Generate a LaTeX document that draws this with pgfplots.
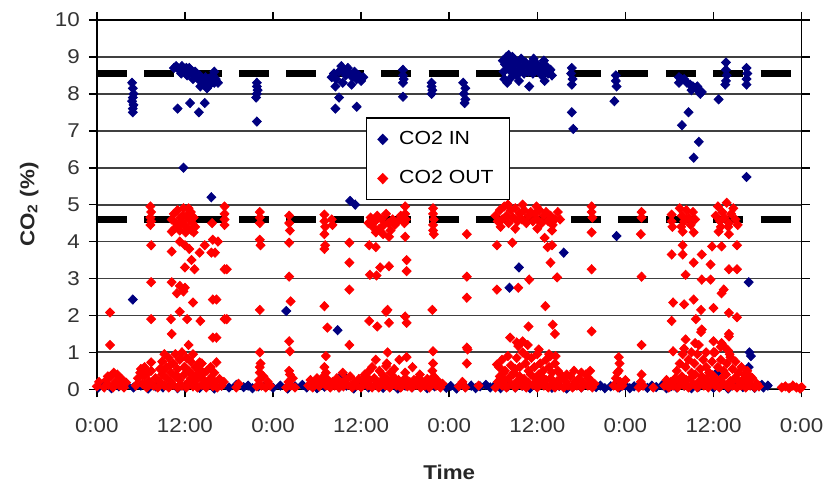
\documentclass[border=0pt]{standalone}
\usepackage{pgfplots}
\pgfplotsset{compat=1.18}
\usepackage{fontspec}
\setmainfont[FakeStretch=1.12]{Liberation Sans}
\definecolor{inblue}{RGB}{0,0,128}
\definecolor{outred}{RGB}{255,0,0}

\begin{document}
\begin{tikzpicture}
\begin{axis}[
  width=353pt, height=185pt, scale only axis,
  xmin=0, xmax=96, ymin=0, ymax=10,
  xtick={0,12,...,96},
  xticklabels={0:00,12:00,0:00,12:00,0:00,12:00,0:00,12:00,0:00},
  ytick={0,1,...,10},
  ymajorgrids, grid style={black!75, line width=0.9pt},
  axis line style={black, line width=0.8pt},
  tick style={black, line width=0.8pt},
  tick align=outside, major tick length=4pt,
  /pgf/number format/assume math mode=true,
  ticklabel style={font=\fontsize{10}{11}\selectfont, text=black!80},
  xticklabel style={yshift=-7pt},
  yticklabel style={xshift=-1pt},
  xlabel={Time}, ylabel={CO\textsubscript{2} (\%)},
  label style={font=\fontsize{10}{11}\selectfont\bfseries, text=black!85},
  xlabel style={at={(axis description cs:0.5,-0.224)}, anchor=center},
  ylabel style={at={(axis description cs:-0.096,0.5)}, anchor=center},
  legend style={at={(axis cs:36.6,7.36)}, anchor=north west, draw=black,
    line width=0.8pt, fill=white, font=\fontsize{9.5}{10.5}\selectfont,
    inner xsep=6pt, inner ysep=4.5pt, row sep=7.5pt},
  legend cell align=left,
  outmarks/.style={only marks, mark=diamond*, mark size=2.3pt,
    mark options={xscale=1.3}},
]
\coordinate (O) at (rel axis cs:0,0);

% CO2 IN
\addplot[outmarks, color=inblue] coordinates {
(0.2,0.05)(1.0,0.1)(2.0,0.03)(3.0,0.08)(4.0,0.12)(5.0,0.05)(6.0,0.1)(7.0,0.02)(8.0,0.08)(9.0,0.05)
(10.0,0.1)(11.0,0.03)(12.0,0.07)(13.0,0.12)(14.0,0.04)(15.0,0.09)(16.0,0.02)(17.0,0.1)(18.0,0.05)(19.0,0.12)
(20.0,0.06)(20.6,0.1)(21.2,0.03)(22.0,0.08)(23.0,0.12)(24.0,0.04)(25.0,0.1)(26.0,0.02)(27.0,0.08)(28.0,0.12)
(28.6,0.05)(29.2,0.1)(30.0,0.03)(31.0,0.07)(32.0,0.12)(33.0,0.05)(34.0,0.1)(35.0,0.02)(36.0,0.09)(37.0,0.05)
(38.0,0.12)(39.0,0.04)(40.0,0.08)(41.0,0.02)(42.0,0.1)(43.0,0.06)(44.0,0.12)(45.0,0.03)(46.0,0.08)(47.0,0.11)
(47.6,0.04)(48.2,0.09)(49.0,0.02)(49.6,0.12)(50.2,0.06)(51.0,0.1)(51.6,0.03)(52.2,0.08)(53.0,0.12)(53.6,0.05)
(54.2,0.1)(55.0,0.03)(56.0,0.08)(57.0,0.05)(58.0,0.1)(59.0,0.03)(60.0,0.07)(61.0,0.12)(62.0,0.04)(63.0,0.09)
(64.0,0.02)(65.0,0.1)(66.0,0.05)(67.0,0.12)(68.0,0.06)(68.6,0.1)(69.2,0.03)(70.0,0.08)(70.6,0.12)(71.2,0.05)
(72.0,0.1)(72.6,0.03)(73.2,0.08)(74.0,0.12)(75.0,0.04)(75.6,0.1)(76.2,0.06)(77.0,0.11)(77.6,0.03)(78.2,0.08)
(79.0,0.05)(80.0,0.1)(81.0,0.03)(82.0,0.07)(83.0,0.12)(84.0,0.04)(85.0,0.09)(86.0,0.02)(87.0,0.1)(88.0,0.06)
(89.0,0.12)(89.6,0.04)(90.2,0.09)(90.8,0.05)(91.4,0.1)(90.6,0.12)
(4.8,8.3)(4.9,8.15)(5.0,8.0)(4.9,7.9)(4.8,7.8)(5.0,7.7)(4.9,7.6)(4.9,7.5)
(10.5,8.7)(10.8,8.75)(11.0,8.7)(11.2,8.65)(11.4,8.7)(11.6,8.75)(11.8,8.7)(12.0,8.65)(12.2,8.7)(12.4,8.6)
(12.6,8.7)(12.8,8.6)(13.0,8.55)(13.2,8.5)(13.4,8.6)(13.6,8.45)(13.8,8.4)(14.0,8.5)(14.2,8.35)(14.4,8.4)
(14.6,8.3)(14.8,8.45)(15.0,8.3)(15.2,8.4)(15.4,8.25)(15.6,8.35)(15.8,8.5)(16.0,8.3)(16.2,8.4)(16.5,8.3)
(11.5,8.55)(12.3,8.5)(13.1,8.4)(14.1,8.2)(15.0,8.15)(16.0,8.6)
(11.0,7.6)(12.7,7.75)(13.9,7.5)(14.7,7.75)(11.8,6.0)(15.6,5.2)(4.9,2.43)
(21.8,8.3)(21.8,8.2)(21.9,8.1)(21.8,8.0)(21.7,7.9)(21.8,7.25)
(32.0,8.45)(32.3,8.55)(32.6,8.4)(33.0,8.6)(33.3,8.75)(33.6,8.65)(33.9,8.5)(34.2,8.7)(34.5,8.55)(34.8,8.45)
(35.1,8.6)(35.4,8.4)(35.7,8.5)(36.0,8.35)(36.3,8.45)(33.5,8.3)(34.7,8.25)(32.5,8.2)
(32.5,7.6)(33.0,7.9)(35.4,7.65)(34.5,5.1)(35.2,5.0)
(41.7,8.65)(41.7,8.5)(41.8,8.4)(41.7,8.3)(41.7,7.92)
(45.6,8.3)(45.6,8.2)(45.7,8.1)(45.6,8.0)
(49.9,8.3)(50.2,8.15)(50.0,8.0)(50.2,7.85)(50.1,7.75)
(55.3,8.9)(55.6,8.8)(55.8,9.0)(56.0,8.7)(56.2,8.85)(56.4,8.6)(56.6,9.0)(56.8,8.75)(57.0,8.9)(57.2,8.5)
(57.4,8.8)(57.6,8.65)(57.8,8.95)(58.0,8.7)(58.2,8.55)(58.4,8.85)(58.6,8.75)(58.8,8.6)(59.0,8.8)(59.2,8.7)
(59.4,8.55)(59.6,8.85)(59.8,8.65)(60.0,8.8)(60.2,8.6)(60.4,8.75)(60.6,8.5)(60.8,8.7)(61.0,8.6)(61.2,8.75)
(61.5,8.55)(61.8,8.65)(62.0,8.5)(55.5,8.4)(55.9,8.3)(56.5,8.45)(57.5,8.35)(58.9,8.2)(61.0,8.35)(55.4,8.6)
(56.1,9.05)(57.0,8.6)(59.5,8.95)(60.9,8.9)
(63.6,3.7)(57.5,3.3)(56.2,2.75)
(64.7,8.7)(64.6,8.55)(64.8,8.4)(64.7,8.25)(64.7,7.5)(64.9,7.05)
(70.7,8.5)(70.7,8.35)(70.8,8.2)(70.5,7.8)(70.8,4.15)
(79.3,8.45)(79.3,8.3)(79.6,8.4)(80.0,8.4)(80.4,8.3)(80.8,8.25)(81.2,8.2)(81.6,8.15)(82.0,8.1)(82.4,8.05)
(81.0,8.1)(81.8,8.2)(82.2,8.0)(80.6,7.5)(79.7,7.15)(82.0,6.7)(81.3,6.27)
(85.7,8.85)(85.7,8.65)(85.8,8.5)(85.7,8.35)(85.6,8.25)(84.7,7.85)
(88.5,8.7)(88.6,8.55)(88.5,8.4)(88.5,8.25)(88.5,5.75)(88.8,2.9)(88.9,1.0)(89.1,0.9)(88.8,0.6)(84.7,0.5)
(25.8,2.12)(32.8,1.6)(33.5,0.4)
};
\addlegendentry{\hspace*{4pt}CO2 IN}

% CO2 OUT
\addplot[outmarks, color=outred] coordinates {
(0.0,0.08)(0.3,0.2)(1.0,0.05)(1.3,0.25)(1.6,0.12)(1.9,0.35)(2.2,0.05)(2.5,0.2)(2.8,0.4)(3.1,0.1)
(3.4,0.28)(3.7,0.05)(4.0,0.18)(5.3,0.1)(5.6,0.3)(5.9,0.45)(6.2,0.15)(6.5,0.35)(6.8,0.05)(7.1,0.22)
(7.4,0.5)(7.7,0.1)(8.0,0.3)(8.3,0.05)(8.6,0.2)(8.9,0.4)(9.2,0.1)(9.5,0.3)(9.8,0.05)(10.1,0.2)
(10.4,0.12)(10.7,0.35)(11.0,0.05)(11.3,0.25)(11.6,0.1)(11.9,0.4)(12.2,0.05)(12.5,0.2)(12.8,0.3)(13.1,0.08)
(13.4,0.22)(13.7,0.05)(14.0,0.35)(14.3,0.12)(14.6,0.25)(14.9,0.05)(15.2,0.18)(15.5,0.3)(15.8,0.08)(16.1,0.2)
(16.4,0.05)(16.7,0.28)(17.0,0.1)(17.3,0.2)(19.0,0.05)(19.3,0.15)(21.8,0.08)(22.1,0.25)(22.4,0.1)(22.7,0.35)
(23.0,0.05)(23.3,0.2)(23.6,0.1)(25.8,0.05)(26.1,0.2)(26.4,0.1)(26.7,0.3)(27.0,0.05)(28.8,0.1)(29.1,0.25)
(29.4,0.05)(29.7,0.15)(30.0,0.3)(30.3,0.08)(30.6,0.2)(30.9,0.35)(31.2,0.1)(31.5,0.25)(31.8,0.05)(32.1,0.2)
(32.4,0.1)(32.7,0.3)(33.0,0.05)(33.3,0.18)(33.6,0.08)(33.9,0.25)(34.2,0.12)(34.5,0.35)(34.8,0.05)(35.1,0.2)
(35.4,0.1)(35.7,0.28)(36.0,0.05)(36.3,0.2)(36.6,0.35)(36.9,0.1)(37.2,0.25)(37.5,0.05)(37.8,0.3)(38.1,0.15)
(38.4,0.05)(38.7,0.22)(39.0,0.38)(39.3,0.1)(39.6,0.25)(39.9,0.05)(40.2,0.2)(40.5,0.32)(40.8,0.1)(41.1,0.25)
(41.4,0.05)(41.7,0.18)(42.0,0.3)(42.3,0.08)(42.6,0.2)(42.9,0.05)(43.2,0.25)(43.5,0.12)(43.8,0.3)(44.1,0.05)
(44.4,0.2)(44.7,0.1)(45.0,0.28)(45.3,0.05)(45.6,0.18)(45.9,0.35)(46.2,0.1)(46.5,0.22)(46.8,0.05)(47.1,0.15)
(49.3,0.08)(49.8,0.2)(50.2,0.05)(52.0,0.1)(54.3,0.05)(54.6,0.2)(54.9,0.35)(55.2,0.1)(55.5,0.25)(55.8,0.05)
(56.1,0.3)(56.4,0.15)(56.7,0.4)(57.0,0.05)(57.3,0.22)(57.6,0.35)(57.9,0.1)(58.2,0.28)(58.5,0.05)(58.8,0.18)
(59.1,0.4)(59.4,0.12)(59.7,0.3)(60.0,0.05)(60.3,0.2)(60.6,0.35)(60.9,0.1)(61.2,0.25)(61.5,0.05)(61.8,0.3)
(62.1,0.15)(62.4,0.05)(62.7,0.22)(63.0,0.1)(63.3,0.3)(63.6,0.05)(63.9,0.2)(64.2,0.1)(64.5,0.35)(64.8,0.05)
(65.1,0.2)(65.4,0.1)(65.7,0.3)(66.0,0.05)(66.3,0.18)(66.6,0.4)(66.9,0.1)(67.2,0.25)(67.5,0.05)(67.8,0.15)
(70.4,0.1)(70.7,0.3)(71.0,0.05)(71.3,0.2)(71.6,0.1)(72.0,0.25)(73.8,0.05)(74.1,0.2)(74.4,0.1)(75.8,0.05)
(77.3,0.1)(77.6,0.25)(77.9,0.05)(78.2,0.2)(78.5,0.1)(78.8,0.3)(79.1,0.05)(79.4,0.2)(79.7,0.35)(80.0,0.1)
(80.3,0.25)(80.6,0.05)(80.9,0.3)(81.2,0.15)(81.5,0.4)(81.8,0.05)(82.1,0.22)(82.4,0.35)(82.7,0.1)(83.0,0.28)
(83.3,0.05)(83.6,0.2)(83.9,0.38)(84.2,0.1)(84.5,0.25)(84.8,0.05)(85.1,0.3)(85.4,0.15)(85.7,0.4)(86.0,0.05)
(86.3,0.22)(86.6,0.1)(86.9,0.3)(87.2,0.05)(87.5,0.2)(87.8,0.1)(88.1,0.28)(88.4,0.05)(88.7,0.18)(89.0,0.1)
(89.3,0.3)(89.6,0.05)(89.9,0.15)(90.2,0.08)
(93.3,0.05)(93.8,0.08)(94.3,0.03)(94.8,0.1)(95.3,0.05)(95.8,0.02)(96.0,0.06)
(8.6,0.55)(8.9,0.75)(9.2,0.95)(9.5,0.6)(9.8,0.85)(10.1,0.45)(10.4,0.7)(10.7,0.95)(11.0,0.55)(11.3,0.8)
(11.6,1.0)(11.9,0.6)(12.2,0.85)(12.5,0.5)(12.8,0.75)(13.1,0.95)(13.4,0.6)(13.7,0.4)(14.0,0.55)(14.3,0.7)
(14.6,0.45)(15.0,0.5)(15.5,0.6)(16.0,0.45)(9.0,0.5)(10.0,0.65)(11.0,0.35)(12.0,0.6)(13.0,0.4)
(1.5,0.35)(2.3,0.45)(6.0,0.55)(6.5,0.6)(7.0,0.45)
(22.2,0.6)(26.3,0.4)(31.0,0.6)(33.5,0.45)
(36.5,0.4)(37.5,0.6)(38.5,0.5)(39.5,0.7)(40.5,0.55)(41.2,0.8)(42.0,0.45)(43.0,0.6)(44.0,0.4)(45.7,0.5)
(38.0,0.8)(40.0,0.45)
(54.8,0.6)(55.2,0.8)(55.6,0.5)(56.0,0.9)(56.4,0.65)(56.8,0.45)(57.2,0.85)(57.6,0.6)(58.0,1.0)(58.4,0.7)
(58.8,0.5)(59.2,0.85)(59.6,0.6)(60.0,0.95)(60.4,0.7)(60.8,0.5)(61.2,0.8)(61.6,0.6)(62.0,0.45)(62.4,0.7)
(62.8,0.5)(63.2,0.4)(55.4,0.45)(57.0,0.55)(58.6,0.9)(60.2,0.4)(61.8,0.9)(64.0,0.4)(65.0,0.5)(66.0,0.45)
(67.2,0.5)(67.0,0.3)
(71.1,0.5)(71.2,0.7)(71.1,0.87)(70.9,0.45)(74.2,0.4)
(79.0,0.5)(79.4,0.7)(79.8,0.95)(80.2,0.6)(80.6,0.8)(81.0,0.45)(81.4,0.7)(81.8,0.95)(82.2,0.55)(82.6,0.8)
(83.0,0.6)(83.4,0.45)(83.8,0.75)(84.2,1.0)(84.6,0.6)(85.0,0.8)(85.4,0.5)(85.8,0.7)(86.2,0.95)(86.6,0.55)
(87.0,0.75)(87.4,0.45)(87.8,0.6)(88.2,0.4)(88.6,0.5)(89.0,0.35)(80.0,1.1)(82.0,1.2)(84.0,1.3)(85.0,1.15)
(83.0,1.0)(86.0,1.05)(81.0,1.0)
(7.3,4.95)(7.4,4.8)(7.3,4.65)(7.4,4.55)(7.3,4.45)(7.4,3.9)(7.4,2.9)(7.4,1.9)(7.4,0.73)
(1.8,2.08)(1.8,1.2)
(10.2,4.6)(10.5,4.75)(10.8,4.5)(11.0,4.85)(11.2,4.4)(11.4,4.65)(11.6,4.55)(11.8,4.9)(12.0,4.45)(12.2,4.7)
(12.4,4.35)(12.6,4.6)(12.8,4.8)(13.0,4.5)(13.2,4.65)(13.4,4.4)(11.3,4.3)(12.1,4.25)(10.6,4.35)(12.9,4.3)
(11.7,4.7)(12.5,4.9)
(11.3,4.0)(10.2,3.73)(12.0,3.9)(12.6,3.8)(14.0,3.7)(16.1,3.7)(16.5,4.0)(12.0,3.3)(13.3,3.25)(12.9,3.5)
(10.2,2.9)(11.3,2.8)(12.0,2.75)(10.9,2.6)(11.8,2.65)(13.1,2.35)(10.1,1.9)(11.3,2.1)(12.3,1.9)(14.1,1.85)
(10.2,1.5)(12.5,1.2)(14.0,0.73)(17.7,3.25)(16.3,2.43)(16.3,1.4)(17.7,1.9)(16.3,0.73)
(10.2,4.27)(13.2,4.25)(14.7,3.9)(15.6,3.7)
(17.4,4.95)(17.4,4.75)(17.4,4.6)(17.4,4.45)(15.7,4.5)(15.8,4.05)(17.4,3.25)(17.4,1.9)(15.8,2.43)(15.8,1.4)
(22.2,4.8)(22.2,4.65)(22.2,4.5)(22.2,4.05)(22.3,3.9)(22.2,2.15)(22.2,1.0)(22.3,0.7)(22.2,0.45)
(26.2,4.7)(26.2,4.5)(26.3,4.3)(26.2,3.97)(26.2,3.05)(26.4,2.38)(26.2,1.3)(26.3,1.03)(26.2,0.5)
(31.0,4.73)(31.0,4.55)(31.1,4.4)(31.0,4.2)(31.0,3.8)(31.1,3.9)(31.0,2.25)(31.4,1.67)(31.2,0.9)(31.2,0.45)
(32.0,4.6)(32.1,4.45)(34.4,3.97)(34.4,3.43)(34.4,2.7)(34.4,1.2)
(37.0,4.5)(37.3,4.65)(37.6,4.4)(37.9,4.55)(38.2,4.7)(38.5,4.35)(38.8,4.6)(39.1,4.45)(39.4,4.75)(39.7,4.5)
(40.0,4.3)(40.3,4.6)(40.6,4.45)(41.0,4.55)(41.4,4.7)(41.9,4.5)(42.0,4.95)(42.0,4.75)(42.1,4.6)(38.0,4.25)
(39.0,4.2)
(37.1,3.9)(38.0,3.85)(39.8,4.13)(42.0,4.13)(38.6,3.3)(39.8,3.33)(37.2,3.1)(38.1,3.08)(42.2,3.5)(42.2,3.2)
(39.6,2.15)(37.1,1.85)(38.2,1.7)(39.8,1.8)(42.0,1.97)(42.2,1.8)(39.6,1.0)(42.2,0.87)(37.1,0.5)(39.4,0.63)
(39.4,2.1)
(45.8,4.9)(45.8,4.75)(45.9,4.6)(45.8,4.45)(45.8,4.3)(45.9,4.2)(45.7,2.15)(45.8,1.03)(45.8,0.7)
(50.4,4.2)(50.4,3.05)(50.4,2.48)(50.4,1.13)(50.5,1.08)(50.4,0.7)
(54.3,4.7)(54.6,4.55)(54.9,4.85)(55.2,4.6)(55.5,4.95)(55.8,4.7)(56.1,4.5)(56.4,4.85)(56.7,4.65)(57.0,4.9)
(57.3,4.55)(57.6,4.75)(57.9,4.6)(58.2,4.85)(58.5,4.5)(58.8,4.7)(59.1,4.8)(59.4,4.55)(59.7,4.75)(60.0,4.6)
(60.3,4.85)(60.6,4.5)(60.9,4.7)(61.2,4.8)(61.5,4.55)(61.8,4.7)(62.1,4.45)(62.4,4.6)(62.8,4.8)(63.1,4.6)
(56.0,5.0)(58.0,5.0)(59.9,4.95)(55.0,4.4)(57.0,4.35)(60.0,4.35)(62.0,4.3)
(54.5,3.9)(56.6,3.97)(61.0,4.1)(61.4,3.85)(61.8,3.43)(62.7,3.03)(54.5,2.7)(57.4,2.75)(58.9,2.97)(61.1,2.25)
(58.8,1.7)(62.1,1.75)(62.4,1.5)(56.3,1.4)(57.2,1.27)(58.0,1.3)(58.7,1.2)(61.6,0.95)(62.5,0.9)(54.5,0.67)
(57.4,1.17)(60.2,1.08)(62.0,3.9)
(67.4,4.95)(67.4,4.8)(67.5,4.65)(67.4,4.25)(67.4,3.25)(67.4,1.57)
(74.2,4.8)(74.2,4.65)(74.1,4.2)(74.2,3.05)(74.2,1.2)
(78.3,4.73)(78.3,4.55)(78.4,4.4)(78.3,3.65)(78.5,2.35)(78.3,1.85)(78.5,1.03)
(79.4,4.9)(79.7,4.7)(80.0,4.55)(80.3,4.85)(80.6,4.65)(80.9,4.45)(81.2,4.8)(81.5,4.6)(79.6,4.4)(84.3,4.7)
(84.6,4.95)(84.9,4.55)(85.2,4.8)(85.5,4.65)(85.8,5.05)(86.1,4.5)(86.4,4.75)(86.7,4.9)(87.0,4.6)(87.3,4.45)
(85.0,4.4)(86.0,4.4)
(80.2,3.1)(81.3,2.43)(82.3,2.15)(82.4,1.62)(80.2,1.35)(81.3,3.43)(82.4,3.65)(83.6,3.38)(85.1,2.6)(84.0,2.2)
(86.1,2.07)(87.2,1.95)(86.1,1.43)(85.4,1.17)(84.0,1.0)(86.3,0.87)(86.1,3.25)(87.2,3.25)(83.8,3.87)(85.1,3.87)
(87.2,3.9)(82.4,2.97)(83.6,2.97)(81.6,1.9)(81.3,4.25)(79.8,4.27)(79.8,3.9)(79.8,3.65)(80.0,2.3)(84.7,4.27)
(86.1,4.2)(85.4,2.7)(82.3,1.55)(81.5,1.25)(85.1,1.25)(86.1,1.5)
};
\addlegendentry{\hspace*{4pt}CO2 OUT}

% reference levels
\addplot[forget plot, black, line width=3.5pt, dash pattern=on 15pt off 8.75pt] coordinates {(0,8.55)(96,8.55)};
\addplot[forget plot, black, line width=3.5pt, dash pattern=on 15pt off 8.75pt] coordinates {(0,4.6)(96,4.6)};
\end{axis}
\path (O) ++(-48.5pt,-48.5pt) rectangle ++(415pt,243.5pt);
\end{tikzpicture}
\end{document}
